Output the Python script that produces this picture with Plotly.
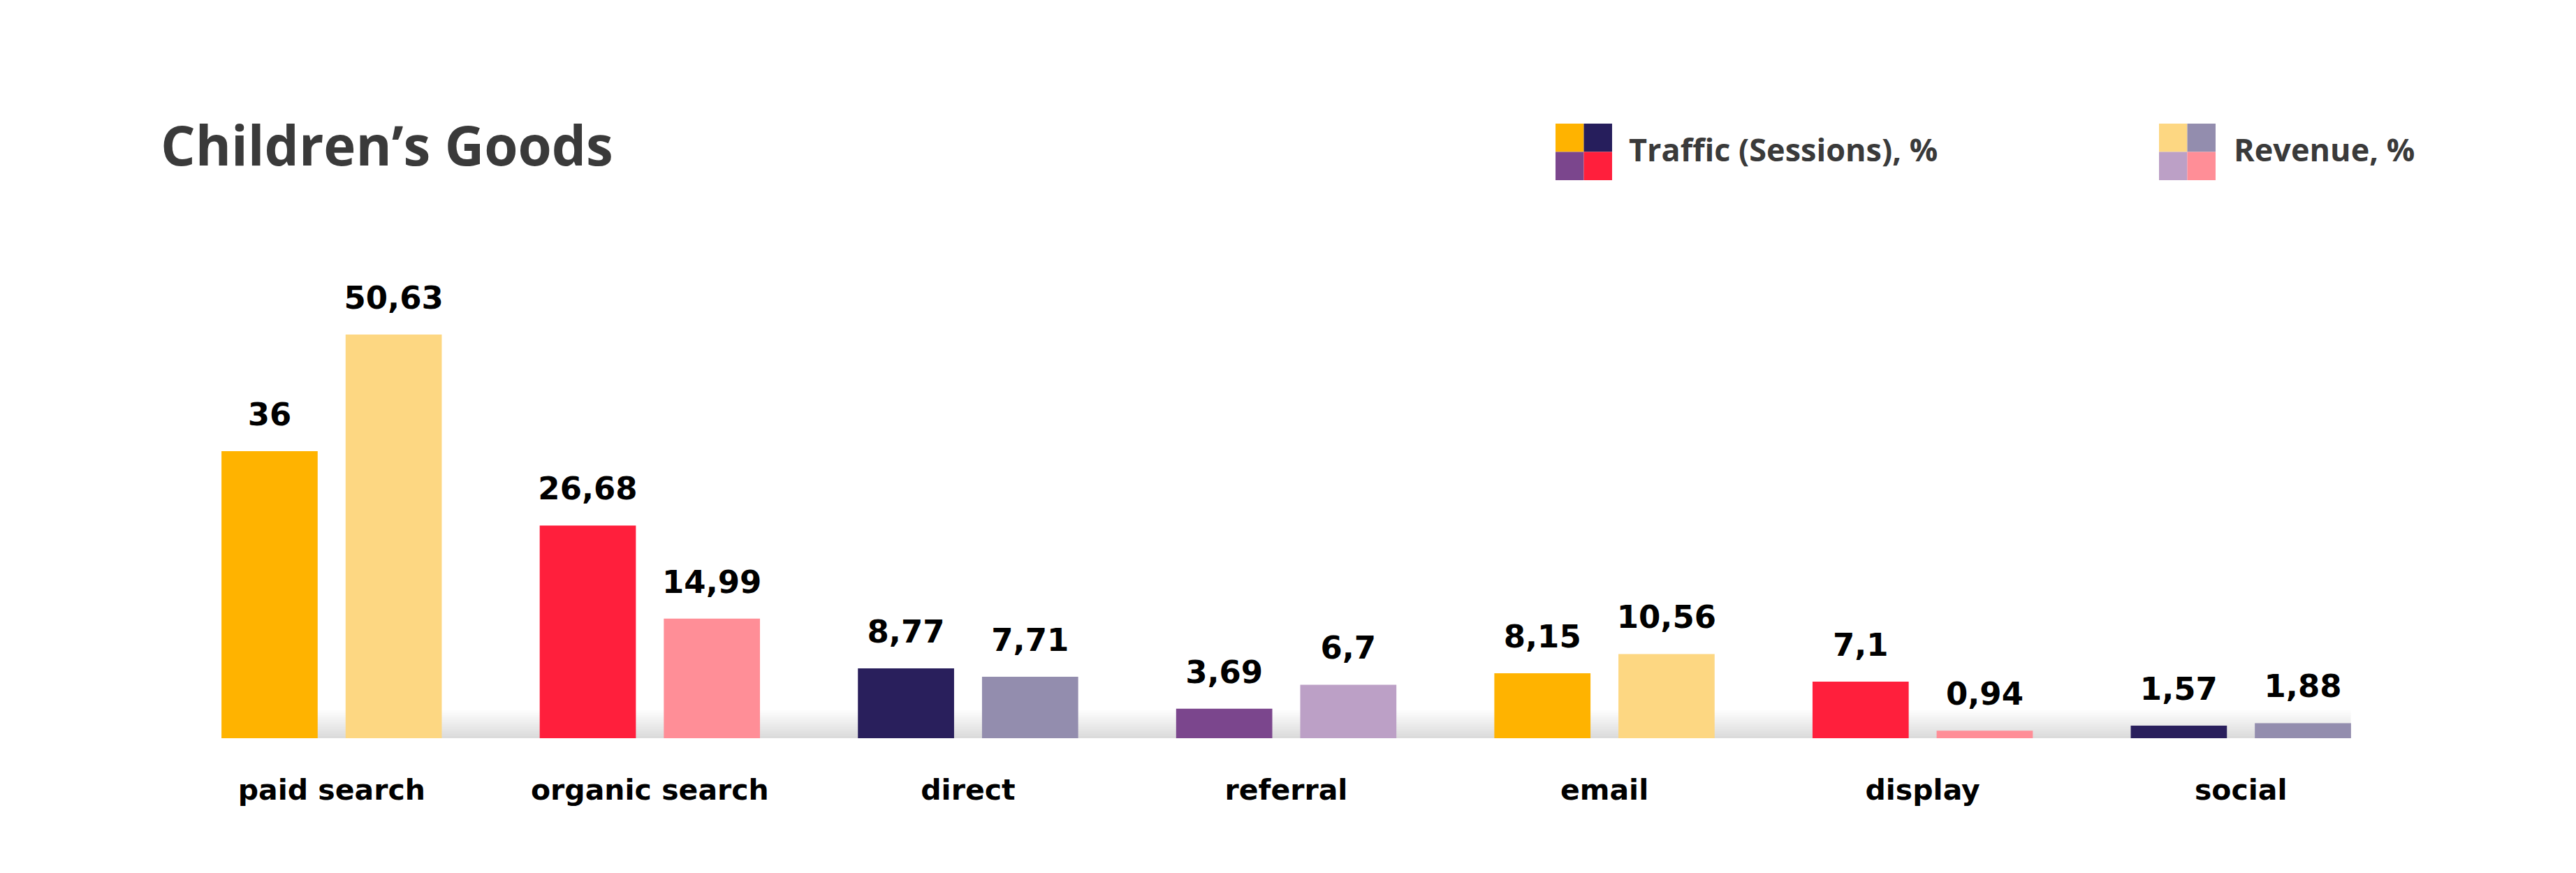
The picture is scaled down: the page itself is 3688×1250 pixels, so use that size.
import plotly.graph_objects as go

# ---- data ----
categories = ["paid search", "organic search", "direct", "referral", "email", "display", "social"]
traffic = [36, 26.68, 8.77, 3.69, 8.15, 7.1, 1.57]
revenue = [50.63, 14.99, 7.71, 6.7, 10.56, 0.94, 1.88]
series_names = ["Traffic (Sessions), %", "Revenue, %"]

# ---- styles ----
traffic_colors = ["#FFB300", "#FF1F3C", "#291F5C", "#7B468D", "#FFB300", "#FF1F3C", "#291F5C"]
revenue_colors = ["#FDD782", "#FF8E97", "#938DAE", "#BCA0C6", "#FDD782", "#FF8E97", "#938DAE"]
legend_traffic = ["#FFB300", "#261E5C", "#7B468D", "#FF1F3C"]  # TL, TR, BL, BR
legend_revenue = ["#FDD782", "#938DAE", "#BCA0C6", "#FF8E97"]

W, H = 3688, 1250
OFF = 8  # page body margin offset
ML, MR, MT, MB = 247 - OFF, 252 + OFF, 372 - OFF, 193 + OFF
PW, PH = W - ML - MR, H - MT - MB
BARGAP = 0.22
NUM_FONT = dict(family="DejaVu Sans", size=45, color="#000000", weight="bold")
TEXT_DARK = "#3A3A3A"


def fmt(v):
    return f"{v:g}".replace(".", ",")


def px_x(px):
    return (px - OFF - ML) / PW


def px_y(py):
    return (H - MB - (py - OFF)) / PH


fig = go.Figure()
for vals, cols, grp, name in [(traffic, traffic_colors, "t", series_names[0]),
                              (revenue, revenue_colors, "r", series_names[1])]:
    fig.add_trace(go.Bar(
        x=categories, y=vals, name=name, offsetgroup=grp,
        marker=dict(color=cols, line=dict(width=0)),
        showlegend=False, hoverinfo="x+y",
    ))
for vals, grp in [(traffic, "t"), (revenue, "r")]:
    fig.add_trace(go.Scatter(
        x=categories, y=vals, offsetgroup=grp, mode="markers+text",
        text=[fmt(v) for v in vals], textposition="top center",
        textfont=NUM_FONT, marker=dict(size=40, opacity=0),
        showlegend=False, hoverinfo="skip", cliponaxis=False,
    ))

shapes = []
# soft shadow strip along the baseline
n_layers = 12
for i in range(n_layers):
    shapes.append(dict(
        type="rect", layer="below", xref="x domain", yref="y",
        ysizemode="pixel", yanchor=0, x0=0.022, x1=0.978,
        y0=0, y1=40 * (i + 1) / n_layers,
        fillcolor="rgba(0,0,0,0.011)", line=dict(width=0),
    ))

# custom legend squares (2x2 tiles)
def legend_square(x0px, y0px, size, cols):
    half = size / 2
    cells = [(0, 0), (1, 0), (0, 1), (1, 1)]
    for (cx, cy), c in zip(cells, cols):
        shapes.append(dict(
            type="rect", xref="paper", yref="paper",
            x0=px_x(x0px + cx * half), x1=px_x(x0px + (cx + 1) * half),
            y0=px_y(y0px + (cy + 1) * half), y1=px_y(y0px + cy * half),
            fillcolor=c, line=dict(width=0),
        ))

legend_square(2227, 177, 81, legend_traffic)
legend_square(3091, 177, 81, legend_revenue)

annotations = [
    dict(text=series_names[0], xref="paper", yref="paper", x=px_x(2330), y=px_y(213),
         xanchor="left", yanchor="middle", showarrow=False,
         font=dict(family="Open Sans", size=45, color=TEXT_DARK, weight="bold")),
    dict(text=series_names[1], xref="paper", yref="paper", x=px_x(3196), y=px_y(213),
         xanchor="left", yanchor="middle", showarrow=False,
         font=dict(family="Open Sans", size=45, color=TEXT_DARK, weight="bold")),
]

fig.update_layout(
    width=W, height=H,
    margin=dict(l=ML, r=MR, t=MT, b=MB, autoexpand=False),
    paper_bgcolor="white", plot_bgcolor="white",
    barmode="group", bargap=BARGAP, bargroupgap=0.225,
    scattermode="group", scattergap=BARGAP,
    title=dict(text="Children’s Goods", xref="container", yref="container",
               x=(230 - OFF) / W, xanchor="left", y=1 - (210 - OFF) / H, yanchor="middle",
               font=dict(family="Open Sans", size=78, color=TEXT_DARK, weight="bold")),
    xaxis=dict(type="category", showgrid=False, zeroline=False, showline=False,
               ticks="", tickfont=dict(family="DejaVu Sans", size=41, color="#000000", weight="bold"),
               ticklabelstandoff=46),
    yaxis=dict(range=[0, 60], visible=False, showgrid=False, zeroline=False),
    shapes=shapes, annotations=annotations,
    showlegend=False,
)

fig.write_html("out.html")
